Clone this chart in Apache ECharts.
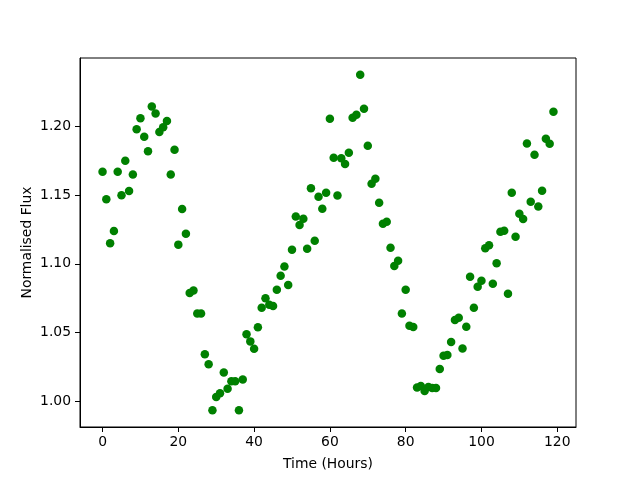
<!DOCTYPE html>
<html>
<head>
<meta charset="utf-8">
<script src="https://cdn.jsdelivr.net/npm/echarts@6/dist/echarts.min.js"></script>
<style>html,body{margin:0;padding:0;background:#fff}#c{width:640px;height:480px}</style>
</head>
<body>
<div id="c"></div>
<script>
const timeHours = [0,1,2,3,4,5,6,7,8,9,10,11,12,13,14,15,16,17,18,19,20,21,22,23,24,25,26,27,28,29,30,31,32,33,34,35,36,37,38,39,40,41,42,43,44,45,46,47,48,49,50,51,52,53,54,55,56,57,58,59,60,61,62,63,64,65,66,67,68,69,70,71,72,73,74,75,76,77,78,79,80,81,82,83,84,85,86,87,88,89,90,91,92,93,94,95,96,97,98,99,100,101,102,103,104,105,106,107,108,109,110,111,112,113,114,115,116,117,118,119];
const flux = [
1.167,1.147,1.115,1.124,1.167,1.150,1.175,1.153,1.165,1.198,
1.206,1.1925,1.182,1.2145,1.2095,1.196,1.1995,1.204,1.165,1.183,
1.114,1.140,1.122,1.0788,1.0807,1.0638,1.0638,1.0342,1.0269,0.9935,
1.0031,1.0058,1.0209,1.0092,1.0145,1.0145,0.9935,1.0158,1.0487,1.0436,
1.0383,1.0538,1.0681,1.0749,1.0703,1.0693,1.0812,1.0914,1.098,1.0846,
1.1103,1.1345,1.1282,1.1329,1.111,1.1551,1.1169,1.1489,1.1401,1.1518,
1.2056,1.1772,1.1498,1.1769,1.1726,1.1809,1.2063,1.2085,1.2376,1.2129,
1.186,1.1583,1.162,1.1445,1.1292,1.1307,1.1118,1.0984,1.1023,1.0638,
1.0812,1.0550,1.054,1.010,1.0111,1.0075,1.0104,1.0097,1.0097,1.0235,
1.0332,1.0337,1.0431,1.0591,1.0608,1.0385,1.0543,1.0907,1.0681,1.0834,
1.0877,1.1113,1.1135,1.0856,1.1004,1.1234,1.1241,1.0783,1.1518,1.1198,
1.1365,1.1326,1.1876,1.1452,1.1794,1.1418,1.1532,1.1911,1.1874,1.2107];
const xTicks = [0,20,40,60,80,100,120];
const yTicks = [1.00,1.05,1.10,1.15,1.20];
const xLabel = 'Time (Hours)';
const yLabel = 'Normalised Flux';

const pts = timeHours.map((t,i)=>[t, flux[i]]);
const xMin = Math.min(...timeHours), xMax = Math.max(...timeHours);
const yMin = Math.min(...flux), yMax = Math.max(...flux);
const xPad = (xMax-xMin)*0.05, yPad = (yMax-yMin)*0.05;
const font = 'DejaVu Sans';

const chart = echarts.init(document.getElementById('c'), null, {renderer:'canvas'});
chart.setOption({
  animation:false,
  backgroundColor:'#fff',
  grid:{left:80, right:64, top:58, bottom:53, show:true, borderColor:'#000', borderWidth:1, backgroundColor:'transparent'},
  xAxis:{
    type:'value', min:xMin-xPad, max:xMax+xPad,
    name:xLabel, nameLocation:'middle', nameGap:30,
    nameTextStyle:{fontFamily:font, fontSize:13.9, color:'#000'},
    axisLine:{show:true, onZero:false, lineStyle:{color:'#000', width:1}},
    axisTick:{show:true, inside:false, length:5, customValues:xTicks, lineStyle:{color:'#000', width:1}},
    axisLabel:{fontFamily:font, fontSize:13.9, color:'#000', margin:8, customValues:xTicks, formatter:v=>String(Math.round(v))},
    splitLine:{show:false}
  },
  yAxis:{
    type:'value', min:yMin-yPad, max:yMax+yPad,
    name:yLabel, nameLocation:'middle', nameGap:46, nameRotate:90, nameMoveOverlap:false,
    nameTextStyle:{fontFamily:font, fontSize:13.9, color:'#000'},
    axisLine:{show:true, onZero:false, lineStyle:{color:'#000', width:1}},
    axisTick:{show:true, inside:false, length:5, customValues:yTicks, lineStyle:{color:'#000', width:1}},
    axisLabel:{fontFamily:font, fontSize:13.9, color:'#000', margin:9, customValues:yTicks, formatter:v=>v.toFixed(2)},
    splitLine:{show:false}
  },
  series:[{
    type:'scatter', data:pts, symbol:'circle', symbolSize:8.5,
    itemStyle:{color:'#008000', opacity:1}
  }]
});
</script>
</body>
</html>
